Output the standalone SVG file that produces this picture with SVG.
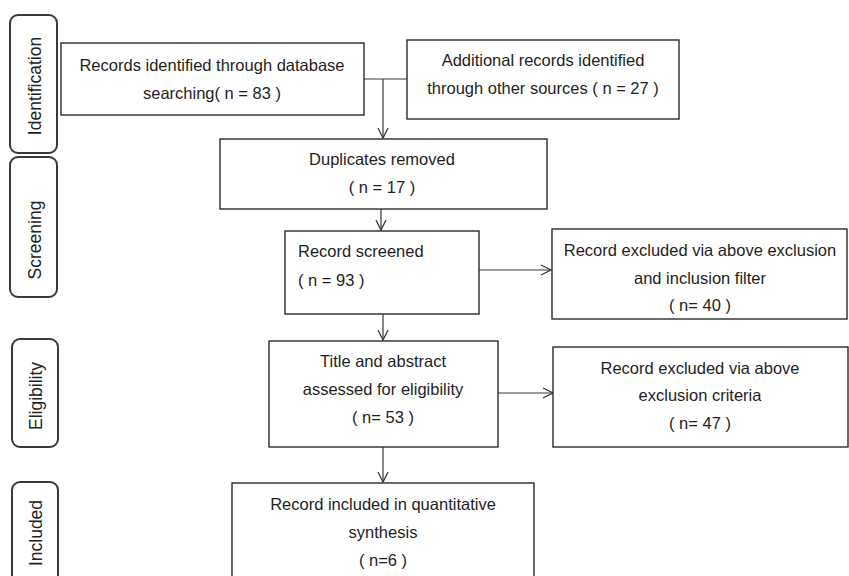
<svg xmlns="http://www.w3.org/2000/svg" width="849" height="576" viewBox="0 0 849 576">
<defs>
<style>
.box{fill:#fff;stroke:#2b2b2b;stroke-width:1.4}
.lbl{fill:#fff;stroke:#3a3a3a;stroke-width:2}
.t{font-family:"Liberation Sans",Arial,sans-serif;font-size:16.5px;fill:#1e1e1e;text-anchor:middle}
.tl{text-anchor:start}
.lt{font-family:"Liberation Sans",Arial,sans-serif;font-size:17.5px;fill:#222;text-anchor:middle}
.c{fill:none;stroke:#3a3a3a;stroke-width:1.2}
</style>
<marker id="ah" viewBox="0 0 12 12" refX="11" refY="6" markerWidth="12" markerHeight="12" markerUnits="userSpaceOnUse" orient="auto">
<path d="M1,1 L11,6 L1,11" fill="none" stroke="#3a3a3a" stroke-width="1.3"/>
</marker>
</defs>
<rect width="849" height="576" fill="#fff"/>

<g id="stage-identification">
<rect class="lbl" x="10" y="15" width="47" height="138" rx="8"/>
<text class="lt" transform="translate(41,86) rotate(-90)">Identification</text>
</g>
<g id="stage-screening">
<rect class="lbl" x="10" y="157" width="47" height="140" rx="8"/>
<text class="lt" transform="translate(41,240) rotate(-90)">Screening</text>
</g>
<g id="stage-eligibility">
<rect class="lbl" x="12" y="339" width="46" height="108" rx="8"/>
<text class="lt" transform="translate(42,396) rotate(-90)">Eligibility</text>
</g>
<g id="stage-included">
<rect class="lbl" x="12" y="482" width="46" height="110" rx="8"/>
<text class="lt" transform="translate(42,533) rotate(-90)">Included</text>
</g>

<g id="connectors">
<line class="c" x1="364" y1="79" x2="407" y2="79"/>
<line class="c" x1="383" y1="79" x2="383" y2="138" marker-end="url(#ah)"/>
<line class="c" x1="381" y1="209" x2="381" y2="230" marker-end="url(#ah)"/>
<line class="c" x1="479" y1="270" x2="551" y2="270" marker-end="url(#ah)"/>
<line class="c" x1="383" y1="314" x2="383" y2="340" marker-end="url(#ah)"/>
<line class="c" x1="498" y1="393" x2="553" y2="393" marker-end="url(#ah)"/>
<line class="c" x1="383" y1="447" x2="383" y2="482" marker-end="url(#ah)"/>
</g>

<g id="records-db">
<rect class="box" x="61" y="43" width="303" height="72"/>
<text class="t" x="212" y="71">Records identified through database</text>
<text class="t" x="212" y="99">searching( n = 83 )</text>
</g>
<g id="records-other">
<rect class="box" x="407" y="40" width="272" height="79"/>
<text class="t" x="543" y="66">Additional records identified</text>
<text class="t" x="543" y="94">through other sources ( n = 27 )</text>
</g>
<g id="duplicates">
<rect class="box" x="220" y="139" width="327" height="70"/>
<text class="t" x="382" y="165">Duplicates removed</text>
<text class="t" x="382" y="193">( n = 17 )</text>
</g>
<g id="screened">
<rect class="box" x="285" y="231" width="194" height="83"/>
<text class="t tl" x="298" y="257">Record screened</text>
<text class="t tl" x="298" y="286">( n = 93 )</text>
</g>
<g id="excluded-1">
<rect class="box" x="552" y="229" width="295" height="90"/>
<text class="t" x="700" y="256">Record excluded via above exclusion</text>
<text class="t" x="700" y="284">and inclusion filter</text>
<text class="t" x="700" y="311">( n= 40 )</text>
</g>
<g id="eligibility">
<rect class="box" x="269" y="341" width="229" height="106"/>
<text class="t" x="383" y="367">Title and abstract</text>
<text class="t" x="383" y="395">assessed for eligibility</text>
<text class="t" x="383" y="423">( n= 53 )</text>
</g>
<g id="excluded-2">
<rect class="box" x="553" y="347" width="295" height="100"/>
<text class="t" x="700" y="374">Record excluded via above</text>
<text class="t" x="700" y="401">exclusion criteria</text>
<text class="t" x="700" y="429">( n= 47 )</text>
</g>
<g id="included">
<rect class="box" x="232" y="483" width="302" height="110"/>
<text class="t" x="383" y="510">Record included in quantitative</text>
<text class="t" x="383" y="538">synthesis</text>
<text class="t" x="383" y="566">( n=6 )</text>
</g>
</svg>
